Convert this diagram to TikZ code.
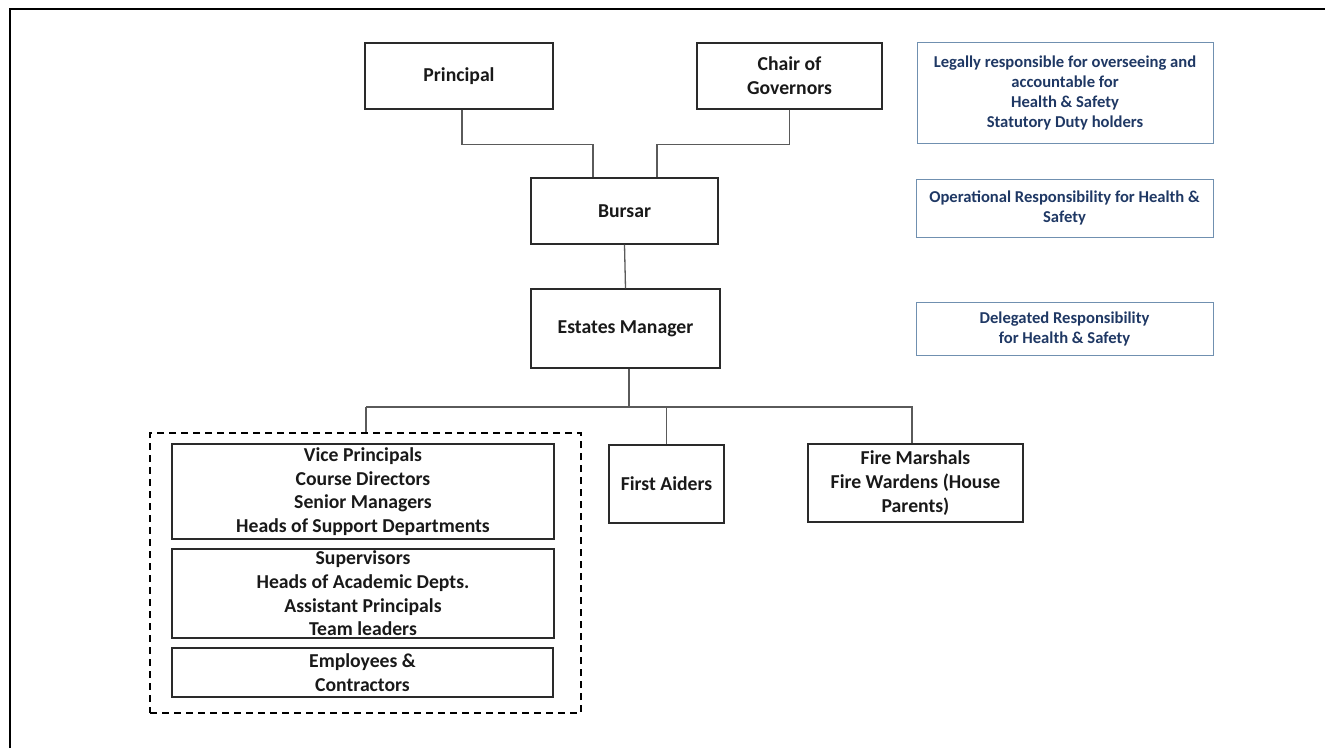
\documentclass[tikz,border=0pt]{standalone}
\usepackage{fontspec}
\setmainfont{Carlito}
\definecolor{navy}{HTML}{1F3864}
\definecolor{steel}{HTML}{7090B0}
\definecolor{conngray}{HTML}{5A5A5A}
\definecolor{boxline}{HTML}{2A2A2A}
\begin{document}
\begin{tikzpicture}[x=1pt,y=-1pt,
  box/.style={draw=boxline,line width=1.2pt,rectangle,inner sep=0pt,align=center,
    text=black!90,font=\fontsize{19.7}{23.7}\selectfont\bfseries},
  note/.style={draw=steel,line width=1pt,rectangle,inner sep=0pt,align=center,
    text=navy,font=\fontsize{16.6}{20}\selectfont\bfseries},
  conn/.style={draw=conngray,line width=1.3pt},
  grpbox/.style={draw=black,line width=2.3pt,dash pattern=on 7pt off 5pt,rectangle,inner sep=0pt}]
\useasboundingbox (0,0) rectangle (1325,748);
% page frame (top and left edges only)
\draw[black,line width=2.4pt] (10,748) -- (10,9) -- (1325,9);

% top level
\node[box,minimum width=188pt,minimum height=66pt] (prin) at (459,76) {Principal};
\node[box,minimum width=185pt,minimum height=66pt] (chair) at (789.5,76) {Chair of\\Governors};
\node[box,minimum width=187pt,minimum height=66pt] (burs) at (624.5,211) {Bursar};
\node[box,minimum width=189pt,minimum height=79pt] (est) at (625.5,328.5) {Estates Manager};

% lower level
\node[grpbox,minimum width=431pt,minimum height=280pt] (grp) at (365.5,573) {};
\node[box,minimum width=382pt,minimum height=95pt] (vp) at (363,491.5)
  {Vice Principals\\Course Directors\\Senior Managers\\Heads of Support Departments};
\node[box,minimum width=382pt,minimum height=89pt] (sup) at (363,593.5)
  {Supervisors\\Heads of Academic Depts.\\Assistant Principals\\Team leaders};
\node[box,minimum width=381pt,minimum height=49pt] (emp) at (362.5,672.5)
  {Employees \&\\Contractors};
\node[box,minimum width=115pt,minimum height=78pt] (fa) at (666.5,484) {First Aiders};
\node[box,minimum width=215pt,minimum height=78pt] (fm) at (915.5,483)
  {Fire Marshals\\Fire Wardens (House\\Parents)};

% notes
\node[note,minimum width=296pt,minimum height=101pt] (n1) at (1065,92.5)
  {Legally responsible for overseeing and\\accountable for\\Health \& Safety\\Statutory Duty holders};
\node[note,minimum width=297pt,minimum height=58pt] (n2) at (1064.5,208)
  {Operational Responsibility for Health \&\\Safety};
\node[note,minimum width=297pt,minimum height=53pt] (n3) at (1064.5,328.5)
  {Delegated Responsibility\\for Health \& Safety};

% connectors
\draw[conn] ([xshift=3pt]prin.south) -- ++(0,35) -| ([xshift=-31.5pt]burs.north);
\draw[conn] (chair.south) -- ++(0,35) -| ([xshift=32.5pt]burs.north);
\draw[conn] (burs.south) -- (est.north);
\coordinate (busL) at (366,407);
\coordinate (busR) at (913,407);
\draw[conn] ([xshift=3.5pt]est.south) -- ([xshift=3.5pt]est.south |- busL);
\draw[conn] (busL) -- (busR);
\draw[conn] (busL) -- (busL |- grp.north);
\draw[conn] (fa.north |- busL) -- (fa.north);
\draw[conn] ([xshift=-3.5pt]fm.north |- busL) -- ([xshift=-3.5pt]fm.north);
\end{tikzpicture}
\end{document}
